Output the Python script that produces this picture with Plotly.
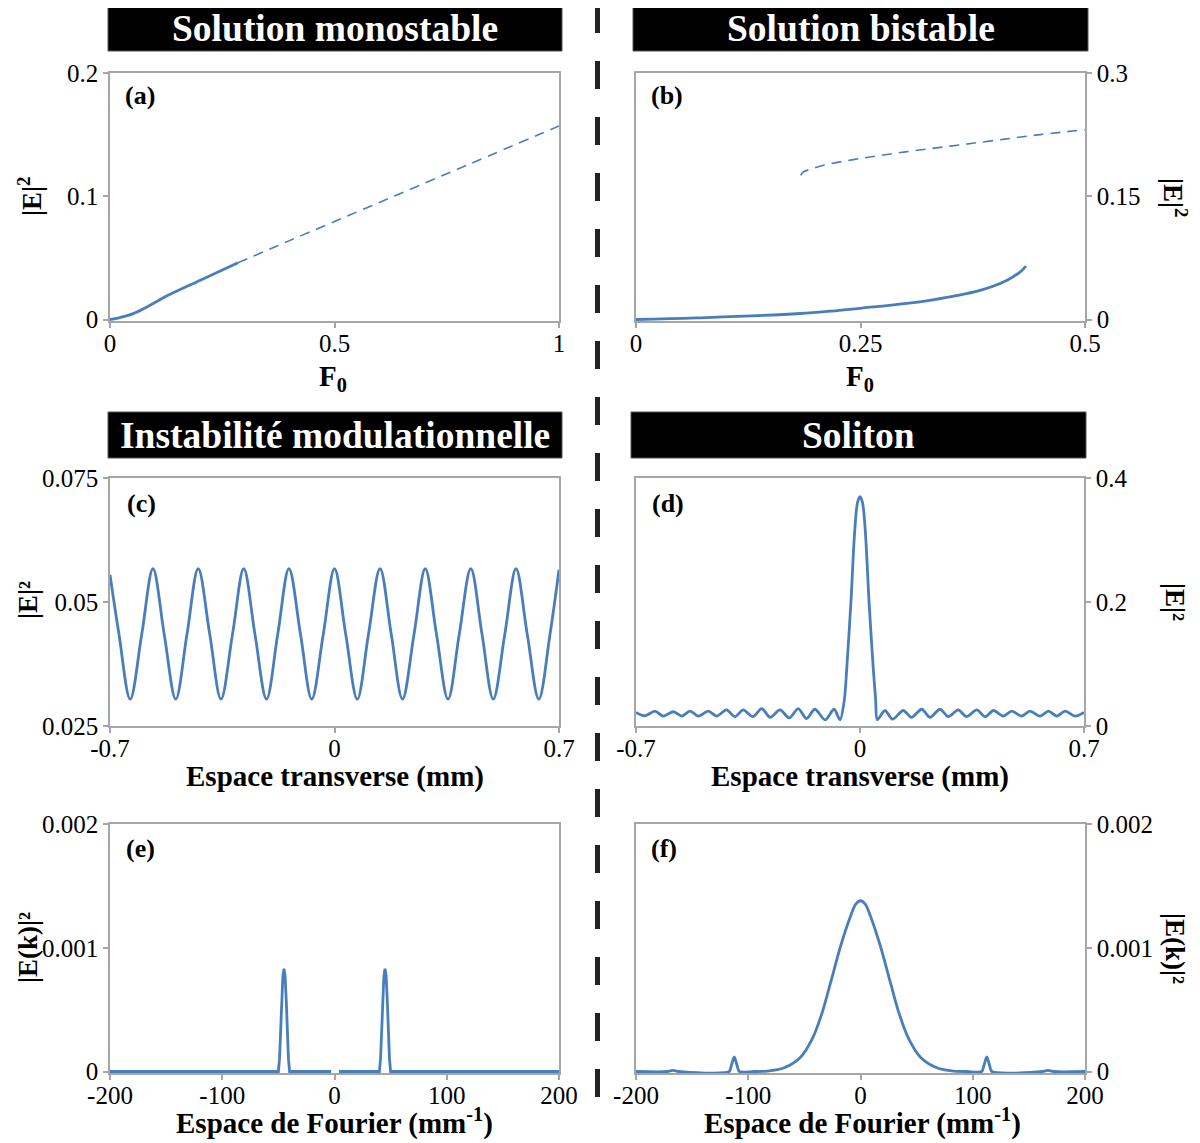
import plotly.graph_objects as go

# page body has an 8px margin: draw in a 1192x1135 figure, offset by 8px
OFF = 8
W, H = 1200 - OFF, 1143 - OFF
BLUE = "#4a7ebb"
AXC = "#a6a6a6"
FONT = "Liberation Serif"

# ---------------- data ----------------
a_solid_x = [0, 0.022, 0.052, 0.089, 0.126, 0.2, 0.285]
a_solid_y = [0, 0.0016, 0.0048, 0.0115, 0.019, 0.0317, 0.046]
a_dash_x = [0.285, 0.4, 0.6, 0.8, 1.0]
a_dash_y = [0.046, 0.064, 0.095, 0.126, 0.157]

b_lower_x = [0, 0.0676, 0.1826, 0.253, 0.327, 0.383, 0.4127, 0.4276, 0.4343]
b_lower_y = [0, 0.002, 0.0073, 0.0141, 0.0234, 0.0355, 0.0476, 0.0577, 0.065]
b_upper_x = [0.1834, 0.186, 0.194, 0.21, 0.25, 0.3, 0.35, 0.4, 0.45, 0.5]
b_upper_y = [0.1754, 0.1795, 0.1827, 0.188, 0.196, 0.204, 0.211, 0.218, 0.225, 0.231]

c_x = [-0.700, -0.672, -0.637, -0.601, -0.566, -0.531, -0.495, -0.460, -0.425, -0.389,
       -0.354, -0.318, -0.283, -0.248, -0.212, -0.177, -0.142, -0.106, -0.071, -0.035,
       0.0, 0.035, 0.071, 0.106, 0.142, 0.177, 0.212, 0.248, 0.283, 0.318,
       0.354, 0.389, 0.425, 0.460, 0.495, 0.531, 0.566, 0.601, 0.637, 0.672, 0.700]
c_y = [0.0555, 0.0435, 0.0304, 0.0435, 0.0567, 0.0435, 0.0304, 0.0435, 0.0567, 0.0435,
       0.0304, 0.0435, 0.0567, 0.0435, 0.0304, 0.0435, 0.0567, 0.0435, 0.0304, 0.0435,
       0.0567, 0.0435, 0.0304, 0.0435, 0.0567, 0.0435, 0.0304, 0.0435, 0.0567, 0.0435,
       0.0304, 0.0435, 0.0567, 0.0435, 0.0304, 0.0435, 0.0567, 0.0435, 0.0304, 0.0435, 0.0565]

d_x = [-0.700, -0.672, -0.641, -0.615, -0.583, -0.557, -0.531, -0.505, -0.474, -0.448,
       -0.417, -0.391, -0.365, -0.335, -0.307, -0.281, -0.250, -0.221, -0.193, -0.167,
       -0.141, -0.109, -0.081, -0.0625,
       -0.049, -0.041, -0.028, -0.017, -0.008, 0.0, 0.008, 0.017, 0.028, 0.041, 0.049,
       0.054, 0.078, 0.102, 0.135, 0.161, 0.193, 0.219, 0.250, 0.276, 0.307, 0.333,
       0.365, 0.391, 0.417, 0.448, 0.474, 0.505, 0.531, 0.5625, 0.589, 0.615, 0.641,
       0.672, 0.700]
d_y = [0.022, 0.0165, 0.024, 0.016, 0.023, 0.016, 0.024, 0.016, 0.024, 0.016,
       0.026, 0.015, 0.026, 0.015, 0.028, 0.014, 0.026, 0.013, 0.028, 0.012,
       0.027, 0.010, 0.027, 0.010,
       0.042, 0.096, 0.203, 0.311, 0.360, 0.370, 0.360, 0.311, 0.203, 0.096, 0.042,
       0.010, 0.025, 0.011, 0.025, 0.014, 0.027, 0.014, 0.027, 0.015, 0.026, 0.015,
       0.026, 0.015, 0.025, 0.016, 0.024, 0.016, 0.024, 0.016, 0.024, 0.016, 0.024,
       0.016, 0.022]

e_x = [-200, -50, -49, -48, -47, -46, -45, -44, -43, -42, -41, -40, -3, 0, 4,
       40, 41, 42, 43, 44, 45, 46, 47, 48, 49, 50, 200]
e_y = [0, 0, 0.0001, 0.0003, 0.00058, 0.00077, 0.00083, 0.00077, 0.00058, 0.0003, 0.0001, 0,
       0, None, 0,
       0, 0.0001, 0.0003, 0.00058, 0.00077, 0.00083, 0.00077, 0.00058, 0.0003, 0.0001, 0, 0]

f_x = [-200, -172, -167, -162, -117, -115, -112.5, -110, -108, -95, -83, -68, -53.2, -42.9,
       -34, -26.6, -17.7, -8.9, -4.4, 0, 4.4, 8.9, 17.7, 26.6, 34, 42.9, 53.2, 68, 83, 95,
       108, 110, 112.5, 115, 117, 162, 167, 172, 200]
f_y = [0, 0, 0.00001, 0, 0, 0.00005, 0.000118, 0.00005, 0, 0, 0.000003, 0.00003, 0.000118,
       0.000265, 0.00048, 0.00072, 0.001014, 0.001255, 0.00135, 0.00138, 0.00135, 0.001255,
       0.001014, 0.00072, 0.00048, 0.000265, 0.000118, 0.00003, 0.000003, 0, 0, 0.00005,
       0.000118, 0.00005, 0, 0, 0.00001, 0, 0]

# tick definitions
a_xt = [0, 0.5, 1]; a_xl = ["0", "0.5", "1"]
a_yt = [0, 0.1, 0.2]; a_yl = ["0", "0.1", "0.2"]
b_xt = [0, 0.25, 0.5]; b_xl = ["0", "0.25", "0.5"]
b_yt = [0, 0.15, 0.3]; b_yl = ["0", "0.15", "0.3"]
c_xt = [-0.7, 0, 0.7]; c_xl = ["-0.7", "0", "0.7"]
c_yt = [0.025, 0.05, 0.075]; c_yl = ["0.025", "0.05", "0.075"]
d_yt = [0, 0.2, 0.4]; d_yl = ["0", "0.2", "0.4"]
e_xt = [-200, -100, 0, 100, 200]; e_xl = ["-200", "-100", "0", "100", "200"]
e_yt = [0, 0.001, 0.002]; e_yl = ["0", "0.001", "0.002"]

titles = ["Solution monostable", "Solution bistable", "Instabilité modulationnelle", "Soliton"]


def px(x):
    return (x - OFF) / W


def py(y):
    return 1 - (y - OFF) / H


fig = go.Figure()

# panel pixel boxes (page pixels): (x0, x1, ytop, ybottom)
boxes = {
    1: (110, 559, 73, 321),
    2: (636, 1085, 73, 321),
    3: (110, 559, 478, 726),
    4: (636, 1084, 478, 726),
    5: (110, 559, 824, 1073),
    6: (636, 1085, 824, 1073),
}
ranges = {
    1: ([0, 1], [-0.0012, 0.2], a_xt, a_xl, a_yt, a_yl, "left"),
    2: ([0, 0.5], [-0.0018, 0.3], b_xt, b_xl, b_yt, b_yl, "right"),
    3: ([-0.7, 0.7], [0.025, 0.075], c_xt, c_xl, c_yt, c_yl, "left"),
    4: ([-0.7, 0.7], [0, 0.4], c_xt, c_xl, d_yt, d_yl, "right"),
    5: ([-200, 200], [-0.000012, 0.002], e_xt, e_xl, e_yt, e_yl, "left"),
    6: ([-200, 200], [-0.000012, 0.002], e_xt, e_xl, e_yt, e_yl, "right"),
}

layout = {}
for i, (x0, x1, yt, yb) in boxes.items():
    xr, yr, xt, xl, yt_, yl, side = ranges[i]
    sfx = "" if i == 1 else str(i)
    common = dict(showline=True, linecolor=AXC, linewidth=1.5, mirror=True,
                  ticks="outside", ticklen=5, tickcolor=AXC, tickwidth=1.5,
                  showgrid=False, zeroline=False, automargin=False,
                  tickfont=dict(family=FONT, size=25, color="black"))
    layout["xaxis" + sfx] = dict(domain=[px(x0), px(x1)], range=xr, anchor="y" + sfx,
                                 tickvals=xt, ticktext=xl, ticklabelstandoff=-6, **common)
    layout["yaxis" + sfx] = dict(domain=[py(yb), py(yt)], range=yr, anchor="x" + sfx,
                                 side=side, tickvals=yt_, ticktext=yl, **common)

fig.update_layout(template="none", **layout)


def add(x, y, i, dash="solid", width=2.8, shape="spline", smooth=1.0):
    sfx = "" if i == 1 else str(i)
    line = dict(color=BLUE, width=width, dash=dash, shape=shape)
    if shape == "spline":
        line["smoothing"] = smooth
    fig.add_trace(go.Scatter(x=x, y=y, mode="lines", xaxis="x" + sfx, yaxis="y" + sfx,
                             line=line, showlegend=False, hoverinfo="skip", connectgaps=False))


add(a_solid_x, a_solid_y, 1)
add(a_dash_x, a_dash_y, 1, dash="10px,7px", width=1.6)
add(b_lower_x, b_lower_y, 2)
add(b_upper_x, b_upper_y, 2, dash="10px,7px", width=1.6)
add(c_x, c_y, 3)
add(d_x, d_y, 4, smooth=0.8)
add(e_x, e_y, 5, shape="linear")
add(f_x, f_y, 6, smooth=0.8)

shapes = []
annotations = []

# title boxes
tboxes = [(108, 562, 5, 51), (633, 1088, 5, 51), (108, 562, 412, 458), (631, 1086, 412, 458)]
for (x0, x1, y0, y1), t in zip(tboxes, titles):
    shapes.append(dict(type="rect", xref="paper", yref="paper", x0=px(x0), x1=px(x1),
                       y0=py(y1), y1=py(y0), fillcolor="black", line=dict(color="#555", width=1)))
    annotations.append(dict(xref="paper", yref="paper", x=px((x0 + x1) / 2), y=py((y0 + y1) / 2),
                            text="<b>" + t + "</b>", showarrow=False, xanchor="center", yanchor="middle",
                            font=dict(family=FONT, size=37.5, color="white")))

# dashed separator
shapes.append(dict(type="line", xref="paper", yref="paper", x0=px(597.5), x1=px(597.5),
                   y0=py(5), y1=py(1110), line=dict(color="#222222", width=5, dash="28px,28px")))

# panel labels
plabels = [("(a)", 123, 96), ("(b)", 649, 96), ("(c)", 125, 503), ("(d)", 650, 504),
           ("(e)", 124, 848), ("(f)", 649, 848)]
for t, x, y in plabels:
    annotations.append(dict(xref="paper", yref="paper", x=px(x), y=py(y), text="<b>" + t + "</b>",
                            showarrow=False, xanchor="left", yanchor="middle",
                            font=dict(family=FONT, size=26, color="black")))

# axis titles
xtitles = [("F<sub>0</sub>", 333, 378), ("F<sub>0</sub>", 860, 378),
           ("Espace transverse (mm)", 335, 776), ("Espace transverse (mm)", 860, 776),
           ("Espace de Fourier (mm<sup>-1</sup>)", 334, 1121),
           ("Espace de Fourier (mm<sup>-1</sup>)", 862, 1121)]
for t, x, y in xtitles:
    annotations.append(dict(xref="paper", yref="paper", x=px(x), y=py(y), text="<b>" + t + "</b>",
                            showarrow=False, xanchor="center", yanchor="middle",
                            font=dict(family=FONT, size=29, color="black")))

ytitles = [("|E|<sup>2</sup>", 30, 197, -90), ("|E|<sup>2</sup>", 1175, 197, 90),
           ("|E|²", 28, 600, -90), ("|E|²", 1175, 602, 90),
           ("|E(k)|²", 28, 948, -90), ("|E(k)|²", 1175, 948, 90)]
for t, x, y, ang in ytitles:
    annotations.append(dict(xref="paper", yref="paper", x=px(x), y=py(y), text="<b>" + t + "</b>",
                            showarrow=False, xanchor="center", yanchor="middle", textangle=ang,
                            font=dict(family=FONT, size=27, color="black")))

fig.update_layout(width=W, height=H, margin=dict(l=0, r=0, t=0, b=0, autoexpand=False),
                  paper_bgcolor="white", plot_bgcolor="white",
                  shapes=shapes, annotations=annotations, showlegend=False)

fig.write_html("out.html")
